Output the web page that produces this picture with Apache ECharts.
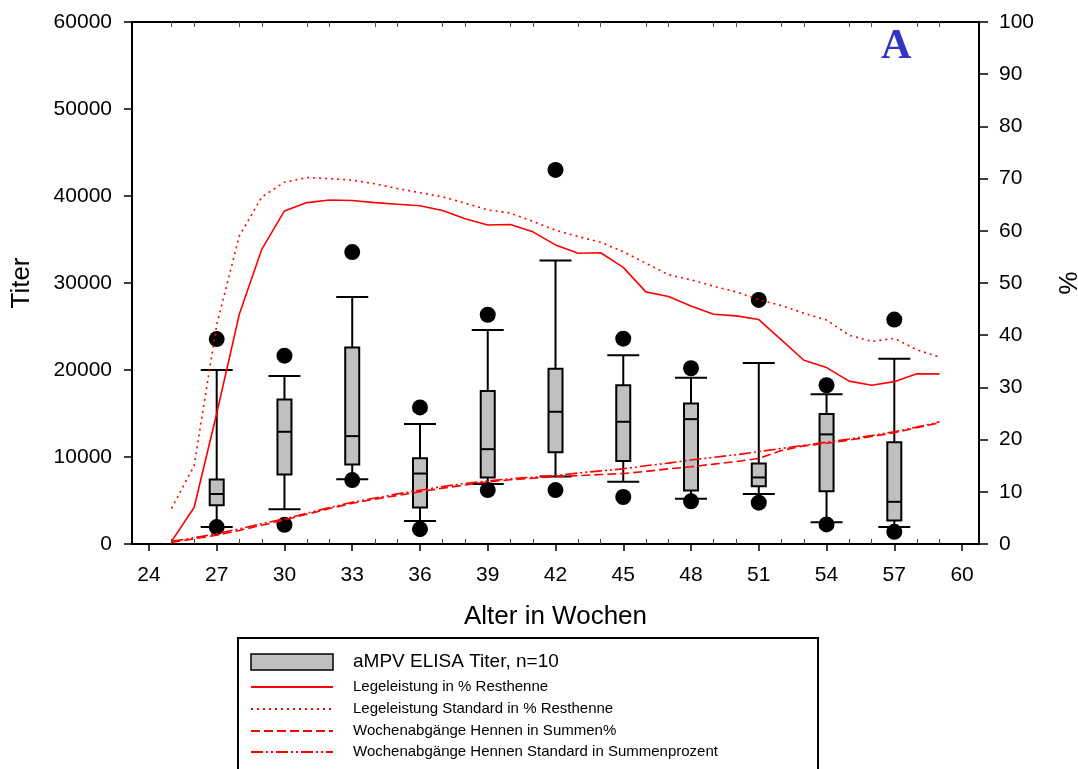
<!DOCTYPE html>
<html>
<head>
<meta charset="utf-8">
<script src="https://cdn.jsdelivr.net/npm/echarts@6/dist/echarts.min.js"></script>
<style>
  html, body { margin: 0; padding: 0; background: #fff; }
  #chart { width: 1078px; height: 769px; }
</style>
</head>
<body>
<div id="chart"></div>
<script>
// box plots (aMPV ELISA titer), one per sampling week
const boxWeeks = [27, 30, 33, 36, 39, 42, 45, 48, 51, 54, 57]
const whiskerHigh = [20000, 19300, 28400, 13800, 24600, 32600, 21700, 19100, 20800, 17200, 21300]
const q3 = [7400, 16600, 22600, 9850, 17600, 20150, 18250, 16150, 9250, 14950, 11700]
const median = [5750, 12900, 12400, 8100, 10900, 15200, 14050, 14350, 7650, 12600, 4850]
const q1 = [4450, 8000, 9150, 4200, 7650, 10550, 9550, 6150, 6650, 6050, 2700]
const whiskerLow = [1950, 4000, 7450, 2650, 6900, 7750, 7150, 5200, 5750, 2500, 1950]
const outlierHigh = [23550, 21650, 33550, 15700, 26350, 43000, 23600, 20200, 28050, 18250, 25800]
const outlierLow = [1950, 2200, 7350, 1700, 6200, 6200, 5400, 4900, 4750, 2250, 1400]

// weekly curves in % (right axis)
const lineWeeks = [25, 26, 27, 28, 29, 30, 31, 32, 33, 34, 35, 36, 37, 38, 39, 40, 41, 42,
  43, 44, 45, 46, 47, 48, 49, 50, 51, 52, 53, 54, 55, 56, 57, 58, 59]
const laying = [0.5, 7, 25, 44, 56.5, 63.8, 65.4, 65.9, 65.8, 65.4, 65.1, 64.8, 63.9, 62.3,
  61.1, 61.2, 59.8, 57.3, 55.7, 55.8, 53, 48.3, 47.4, 45.6, 44.0, 43.7, 43.0, 39.1, 35.2,
  33.8, 31.2, 30.4, 31.1, 32.6, 32.6]
const layingStd = [6.8, 15, 42, 59, 66.5, 69.3, 70.2, 70.0, 69.7, 69.0, 68.1, 67.3, 66.5,
  65.3, 64.0, 63.4, 61.8, 60.1, 58.9, 57.8, 56.0, 53.8, 51.6, 50.6, 49.4, 48.3, 46.8, 45.7,
  44.2, 42.9, 40.0, 38.8, 39.4, 37.2, 35.8]
const losses = [0.3, 1.0, 1.7, 2.6, 3.6, 4.6, 5.7, 6.8, 7.8, 8.6, 9.3, 10.0, 10.7, 11.3,
  11.9, 12.3, 12.6, 12.9, 13.1, 13.3, 13.5, 13.9, 14.4, 14.8, 15.3, 15.8, 16.4, 17.9, 18.8,
  19.3, 19.9, 20.6, 21.3, 22.3, 23.2]
const lossesStd = [0.5, 1.2, 2.0, 2.9, 3.9, 4.8, 5.9, 7.0, 8.0, 8.8, 9.6, 10.3, 11.0, 11.6,
  12.1, 12.5, 12.8, 13.1, 13.6, 14.0, 14.4, 15.0, 15.5, 16.1, 16.6, 17.1, 17.7, 18.3, 18.9,
  19.5, 20.1, 20.8, 21.5, 22.4, 23.4]

const xMajorTicks = [24, 27, 30, 33, 36, 39, 42, 45, 48, 51, 54, 57, 60]
const xMinorTicks = [25, 26, 28, 29, 31, 32, 34, 35, 37, 38, 40, 41, 43, 44, 46, 47, 49, 50,
  52, 53, 55, 56, 58, 59]

const legendNames = [
  'aMPV ELISA Titer, n=10',
  'Legeleistung in % Resthenne',
  'Legeleistung Standard in % Resthenne',
  'Wochenabgänge Hennen in Summen%',
  'Wochenabgänge Hennen Standard in Summenprozent',
]

const RED = '#ff0000'
const FONT = 'Liberation Sans, Arial, sans-serif'
const DOT = [2, 4]
const DASH = [9, 4]
const DASHDOT = [12, 3, 2, 3, 2, 3]

const pairs = (xs, ys) => xs.map((x, i) => [x, ys[i]])

const boxData = boxWeeks.map((w, i) => [w, whiskerLow[i], q1[i], median[i], q3[i], whiskerHigh[i]])

const renderBox = (params, api) => {
	const x = api.value(0)
	const lo = api.coord([x, api.value(1)])
	const b1 = api.coord([x, api.value(2)])
	const md = api.coord([x, api.value(3)])
	const b3 = api.coord([x, api.value(4)])
	const hi = api.coord([x, api.value(5)])
	const bw = 7
	const cw = 16
	const ls = { stroke: '#000', lineWidth: 2 }
	const seg = (x1, y1, x2, y2) => ({ type: 'line', shape: { x1, y1, x2, y2 }, style: ls })
	return {
		type: 'group',
		children: [
			seg(lo[0], lo[1], b1[0], b1[1]),
			seg(b3[0], b3[1], hi[0], hi[1]),
			seg(lo[0] - cw, lo[1], lo[0] + cw, lo[1]),
			seg(hi[0] - cw, hi[1], hi[0] + cw, hi[1]),
			{
				type: 'rect',
				shape: { x: b1[0] - bw, y: b3[1], width: bw * 2, height: b1[1] - b3[1] },
				style: { fill: '#c0c0c0', stroke: '#000', lineWidth: 2 },
			},
			seg(md[0] - bw, md[1], md[0] + bw, md[1]),
		],
	}
}

const lineSeries = (name, data, type) => ({
	name,
	type: 'line',
	xAxisIndex: 0,
	yAxisIndex: 1,
	data: pairs(lineWeeks, data),
	symbol: 'none',
	z: 5,
	lineStyle: { color: RED, width: 1.6, type },
	silent: true,
})

// legend block drawn by hand (box icon is wider than the line icons)
const legendItems = [
	{ y: 687, dash: null },
	{ y: 709, dash: DOT },
	{ y: 731, dash: DASH },
	{ y: 752, dash: DASHDOT },
]
const legendGraphic = [
	{
		type: 'rect',
		shape: { x: 238, y: 638, width: 580, height: 140 },
		style: { fill: '#fff', stroke: '#000', lineWidth: 2 },
	},
	{
		type: 'rect',
		shape: { x: 251, y: 654, width: 82, height: 16 },
		style: { fill: '#c0c0c0', stroke: '#000', lineWidth: 1.5 },
	},
	{
		type: 'text',
		x: 353,
		y: 662,
		style: { text: legendNames[0], font: '19px ' + FONT, fill: '#000', verticalAlign: 'middle' },
	},
]
legendItems.forEach((it, i) => {
	legendGraphic.push({
		type: 'line',
		shape: { x1: 251, y1: it.y, x2: 333, y2: it.y },
		style: { stroke: RED, lineWidth: 2, lineDash: it.dash || null },
	})
	legendGraphic.push({
		type: 'text',
		x: 353,
		y: it.y,
		style: { text: legendNames[i + 1], font: '15px ' + FONT, fill: '#000', verticalAlign: 'middle' },
	})
})

const chart = echarts.init(document.getElementById('chart'), null, { renderer: 'canvas' })

chart.setOption({
	animation: false,
	backgroundColor: '#fff',
	grid: { left: 132, right: 99, top: 22, bottom: 225, outerBoundsMode: 'none', containLabel: false },
	textStyle: { fontFamily: FONT },
	xAxis: [
		{
			type: 'value',
			position: 'bottom',
			min: 23.25,
			max: 60.75,
			axisLine: { lineStyle: { color: '#000', width: 2 } },
			axisTick: { customValues: xMajorTicks, length: 7, lineStyle: { color: '#000', width: 1.5 } },
			axisLabel: { customValues: xMajorTicks, fontSize: 21, color: '#000', margin: 21 },
			splitLine: { show: false },
			name: 'Alter in Wochen',
			nameLocation: 'middle',
			nameGap: 60,
			nameTextStyle: { fontSize: 26, color: '#000' },
		},
		{
			type: 'value',
			position: 'bottom',
			min: 23.25,
			max: 60.75,
			axisLine: { show: false },
			axisTick: { customValues: xMinorTicks, inside: true, length: 5, lineStyle: { color: '#444', width: 1 } },
			axisLabel: { show: false },
			splitLine: { show: false },
		},
		{
			type: 'value',
			position: 'top',
			min: 23.25,
			max: 60.75,
			axisLine: { lineStyle: { color: '#000', width: 2 } },
			axisTick: { customValues: xMinorTicks, inside: true, length: 5, lineStyle: { color: '#555', width: 1 } },
			axisLabel: { show: false },
			splitLine: { show: false },
		},
	],
	yAxis: [
		{
			type: 'value',
			position: 'left',
			min: 0,
			max: 60000,
			interval: 10000,
			axisLine: { show: true, lineStyle: { color: '#000', width: 2 } },
			axisTick: { show: true, length: 8, lineStyle: { color: '#000', width: 1.5 } },
			axisLabel: { fontSize: 21, color: '#000', margin: 20, formatter: v => String(v) },
			splitLine: { show: false },
			name: 'Titer',
			nameLocation: 'middle',
			nameGap: 97,
			nameTextStyle: { fontSize: 26, color: '#000' },
		},
		{
			type: 'value',
			position: 'right',
			min: 0,
			max: 100,
			interval: 10,
			axisLine: { show: true, lineStyle: { color: '#000', width: 2 } },
			axisTick: { show: true, length: 9, lineStyle: { color: '#000', width: 1.5 } },
			axisLabel: { fontSize: 21, color: '#000', margin: 20 },
			splitLine: { show: false },
			name: '%',
			nameLocation: 'middle',
			nameGap: 74,
			nameRotate: -90,
			nameTextStyle: { fontSize: 26, color: '#000' },
		},
	],
	series: [
		{
			name: legendNames[0],
			type: 'custom',
			xAxisIndex: 0,
			yAxisIndex: 0,
			renderItem: renderBox,
			encode: { x: 0, y: [1, 2, 3, 4, 5] },
			data: boxData,
			z: 2,
			silent: true,
		},
		{
			name: 'outliers',
			type: 'scatter',
			xAxisIndex: 0,
			yAxisIndex: 0,
			data: pairs(boxWeeks, outlierHigh).concat(pairs(boxWeeks, outlierLow)),
			symbol: 'circle',
			symbolSize: 16,
			itemStyle: { color: '#000', opacity: 1 },
			z: 3,
			silent: true,
		},
		lineSeries(legendNames[1], laying, 'solid'),
		lineSeries(legendNames[2], layingStd, DOT),
		lineSeries(legendNames[3], losses, DASH),
		lineSeries(legendNames[4], lossesStd, DASHDOT),
	],
	graphic: [
		{
			type: 'text',
			left: 881,
			top: 26,
			style: { text: 'A', font: 'bold 42px Liberation Serif, Times New Roman, serif', fill: '#3434c4' },
		},
		...legendGraphic,
	],
})
</script>
</body>
</html>
